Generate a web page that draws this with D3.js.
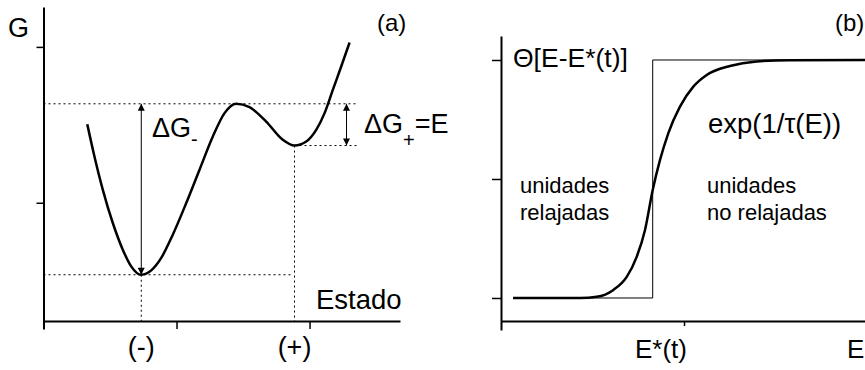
<!DOCTYPE html>
<html>
<head>
<meta charset="utf-8">
<script src="https://cdn.jsdelivr.net/npm/d3@7/dist/d3.min.js"></script>
<style>
  html, body { margin: 0; padding: 0; background: #fff; }
  svg { display: block; }
  text { font-family: "Liberation Sans", Arial, Helvetica, sans-serif; fill: #000; }
</style>
</head>
<body>
<svg id="chart" width="865" height="370"></svg>
<script>
// ---- Panel (a): free-energy landscape G along the state coordinate ----
const stateCoord = [0.329, 0.383, 0.446, 0.521, 0.596, 0.659, 0.735, 0.810, 0.885, 0.972,
                    1.073, 1.173, 1.273, 1.361, 1.449, 1.549, 1.674, 1.799, 1.887, 1.975,
                    2.050, 2.113, 2.175, 2.238, 2.301];
const freeEnergy = [1.504, 1.297, 1.083, 0.870, 0.699, 0.592, 0.538, 0.566, 0.646, 0.795,
                    0.998, 1.212, 1.425, 1.575, 1.635, 1.613, 1.521, 1.404, 1.367, 1.393,
                    1.468, 1.575, 1.724, 1.874, 2.028];
const stateNames = ["(-)", "(+)"];
const statePositions = [0.735, 1.887];     // minima of the landscape
const stateEnergies = [0.538, 1.367];
const barrierEnergy = 1.635;
const barrierArrowX = 2.278;
const stateTicks = [1, 2];
const energyTicksA = [1, 2];

// ---- Panel (b): relaxation function vs energy ----
const energyGrid = [0.066, 0.432, 0.523, 0.614, 0.687, 0.742, 0.787, 0.829, 0.869, 0.914,
                    0.978, 1.051, 1.124, 1.251, 1.397, 1.579, 1.989];
const relaxProb = [0.000, 0.000, 0.005, 0.034, 0.089, 0.174, 0.286, 0.454, 0.580, 0.692,
                   0.804, 0.888, 0.937, 0.975, 0.994, 0.999, 1.000];
const stepEnergy = [0.066, 0.829, 0.829, 1.989];
const stepValue = [0, 0, 1, 1];
const energyTicksB = [1];
const probTicks = [0, 0.5, 1];

const svg = d3.select("#chart");

const defs = svg.append("defs");
["start", "end"].forEach(kind => {
  defs.append("marker")
    .attr("id", "arrow-" + kind)
    .attr("viewBox", "0 0 10 10")
    .attr("refX", 10).attr("refY", 5)
    .attr("markerUnits", "userSpaceOnUse")
    .attr("markerWidth", 9).attr("markerHeight", 7)
    .attr("orient", kind === "end" ? "auto" : "auto-start-reverse")
    .append("path").attr("d", "M0,0 L10,5 L0,10 Z").attr("fill", "#000");
});

function styleAxis(g) {
  g.select(".domain").attr("stroke", "#000").attr("stroke-width", 2);
  g.selectAll(".tick line").attr("stroke", "#000").attr("stroke-width", 1.5);
  g.selectAll(".tick text").remove();
}

// ---------- Panel (a) ----------
const xA = d3.scaleLinear().domain([0, 2.68]).range([43.5, 400]);
const yA = d3.scaleLinear().domain([0.19, 2.256]).range([329, 7]);
const axisYA = 321;

svg.append("g").attr("transform", `translate(0,${axisYA})`)
  .call(d3.axisBottom(xA).tickValues(stateTicks).tickSize(8).tickSizeOuter(0))
  .call(styleAxis);
svg.append("g").attr("transform", `translate(${xA(0)},0)`)
  .call(d3.axisLeft(yA).tickValues(energyTicksA).tickSize(7).tickSizeOuter(0))
  .call(styleAxis);

const dotted = { stroke: "#000", "stroke-width": 1, "stroke-dasharray": "2,3" };
function guide(x1, y1, x2, y2) {
  const l = svg.append("line").attr("x1", x1).attr("y1", y1).attr("x2", x2).attr("y2", y2);
  Object.entries(dotted).forEach(([k, v]) => l.attr(k, v));
}
guide(xA(0), yA(barrierEnergy), xA(barrierArrowX) + 11, yA(barrierEnergy));
guide(xA(statePositions[1]), yA(stateEnergies[1]), xA(barrierArrowX) + 10, yA(stateEnergies[1]));
guide(xA(0), yA(stateEnergies[0]), xA(statePositions[1]) - 2, yA(stateEnergies[0]));
statePositions.forEach((s, i) => guide(xA(s), yA(stateEnergies[i]), xA(s), axisYA));

svg.append("path")
  .datum(stateCoord.map((s, i) => [s, freeEnergy[i]]))
  .attr("fill", "none").attr("stroke", "#000").attr("stroke-width", 2.5)
  .attr("d", d3.line().x(d => xA(d[0])).y(d => yA(d[1])).curve(d3.curveMonotoneX));

function doubleArrow(x, g1, g2) {
  svg.append("line")
    .attr("x1", x).attr("y1", yA(g1)).attr("x2", x).attr("y2", yA(g2))
    .attr("stroke", "#000").attr("stroke-width", 1)
    .attr("marker-start", "url(#arrow-start)").attr("marker-end", "url(#arrow-end)");
}
doubleArrow(xA(statePositions[0]), stateEnergies[0], barrierEnergy);
doubleArrow(xA(barrierArrowX), stateEnergies[1], barrierEnergy);

svg.append("text").attr("x", 8).attr("y", 37).attr("font-size", 27).text("G");
svg.append("text").attr("x", 377).attr("y", 31).attr("font-size", 24).text("(a)");
svg.append("text").attr("x", 316).attr("y", 309).attr("font-size", 27.5).text("Estado");
stateNames.forEach((n, i) => {
  svg.append("text").attr("x", xA(statePositions[i])).attr("y", 356)
    .attr("text-anchor", "middle").attr("font-size", 27).text(n);
});

const dgMinus = svg.append("text").attr("x", 152).attr("y", 137).attr("font-size", 27);
dgMinus.append("tspan").text("ΔG");
dgMinus.append("tspan").attr("dy", 9).attr("font-size", 20).text("-");

const dgPlus = svg.append("text").attr("x", 364).attr("y", 133).attr("font-size", 27);
dgPlus.append("tspan").text("ΔG");
dgPlus.append("tspan").attr("dy", 14).attr("font-size", 20).text("+");
dgPlus.append("tspan").attr("dy", -14).text("=E");

// ---------- Panel (b) ----------
const xB = d3.scaleLinear().domain([0, 2]).range([501, 867]);
const yB = d3.scaleLinear().domain([-0.1345, 1.1008]).range([330, 36]);
const axisYB = 321;

svg.append("g").attr("transform", `translate(0,${axisYB})`)
  .call(d3.axisBottom(xB).tickValues(energyTicksB).tickSize(5).tickSizeOuter(0))
  .call(styleAxis);
svg.append("g").attr("transform", `translate(${xB(0)},0)`)
  .call(d3.axisLeft(yB).tickValues(probTicks).tickSize(9).tickSizeOuter(0))
  .call(styleAxis);

svg.append("path")
  .datum(stepEnergy.map((e, i) => [e, stepValue[i]]))
  .attr("fill", "none").attr("stroke", "#000").attr("stroke-width", 1)
  .attr("d", d3.line().x(d => xB(d[0])).y(d => yB(d[1])));

svg.append("path")
  .datum(energyGrid.map((e, i) => [e, relaxProb[i]]))
  .attr("fill", "none").attr("stroke", "#000").attr("stroke-width", 2.5)
  .attr("d", d3.line().x(d => xB(d[0])).y(d => yB(d[1])).curve(d3.curveMonotoneX));

svg.append("text").attr("x", 835).attr("y", 31).attr("font-size", 24).text("(b)");
svg.append("text").attr("x", 513).attr("y", 67).attr("font-size", 26.5).text("Θ[E-E*(t)]");
svg.append("text").attr("x", 708).attr("y", 133).attr("font-size", 27.5).text("exp(1/τ(E))");

function twoLines(x, l1, l2) {
  const t = svg.append("text").attr("x", x).attr("y", 193).attr("font-size", 22);
  t.append("tspan").attr("x", x).text(l1);
  t.append("tspan").attr("x", x).attr("y", 220).text(l2);
}
twoLines(520, "unidades", "relajadas");
twoLines(707, "unidades", "no relajadas");

svg.append("text").attr("x", 635).attr("y", 358).attr("font-size", 26).text("E*(t)");
svg.append("text").attr("x", 847).attr("y", 358).attr("font-size", 26).text("E");
</script>
</body>
</html>
